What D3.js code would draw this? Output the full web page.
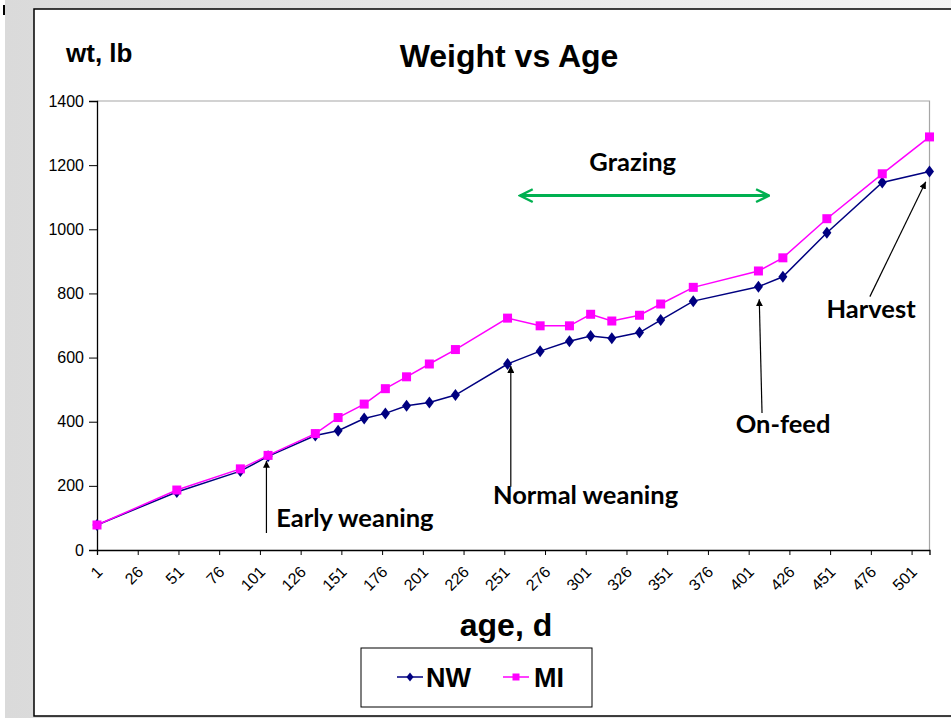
<!DOCTYPE html>
<html>
<head>
<meta charset="utf-8">
<script src="https://cdn.jsdelivr.net/npm/d3@7"></script>
<style>
  body { margin: 0; background: #fff; }
  svg { display: block; }
</style>
</head>
<body>
<div id="chart"></div>
<script>
// age in days for each weighing
const days = [1, 50, 89, 106, 135, 149, 165, 178, 191, 205, 221, 253, 273, 291, 304, 317, 334, 347, 367, 407, 422, 449, 483, 512];
// NW = normal weaning, MI = early weaned
const nw = [78, 181, 246, 292, 357, 372, 410, 426, 450, 460, 483, 580, 620, 651, 667, 660, 678, 717, 776, 821, 852, 989, 1146, 1180];
const mi = [78, 187, 253, 295, 363, 413, 455, 503, 540, 580, 625, 723, 699, 699, 735, 714, 732, 767, 819, 870, 911, 1033, 1173, 1288];
const xTicks = [1, 26, 51, 76, 101, 126, 151, 176, 201, 226, 251, 276, 301, 326, 351, 376, 401, 426, 451, 476, 501];
const yTicks = [0, 200, 400, 600, 800, 1000, 1200, 1400];
// arrows: tip and tail in data units, label start + baseline
const notes = [
  {text: "Early weaning", tip: [105, 278], tail: [105, 53], at: [111, 72]},
  {text: "Normal weaning", tip: [255, 574], tail: [255, 197], at: [244, 143]},
  {text: "On-feed", tip: [407.5, 782], tail: [409.2, 427], at: [393, 365]},
  {text: "Harvest", tip: [509.7, 1148], tail: [475.4, 790], at: [448.8, 723]}
];
const grazing = {from: 260.6, to: 413.4, wt: 1105, labelDay: 329.8, labelWt: 1183};

const w = 951, h = 718;
const svg = d3.select("#chart").append("svg")
  .attr("width", w).attr("height", h);

const defs = svg.append("defs");
const grad = defs.append("linearGradient").attr("id", "bg")
  .attr("x1", 0).attr("x2", 1).attr("y1", 0).attr("y2", 0);
grad.append("stop").attr("offset", 0).attr("stop-color", "#dadada");
grad.append("stop").attr("offset", 1).attr("stop-color", "#f4f4f4");
defs.append("marker").attr("id", "head")
  .attr("viewBox", "0 0 10 10").attr("refX", 10).attr("refY", 5)
  .attr("markerWidth", 7).attr("markerHeight", 7).attr("markerUnits", "userSpaceOnUse")
  .attr("orient", "auto")
  .append("path").attr("d", "M0,0 L10,5 L0,10 Z").attr("fill", "#000");
defs.append("marker").attr("id", "chev")
  .attr("viewBox", "0 0 10 10").attr("refX", 9).attr("refY", 5)
  .attr("markerWidth", 16).attr("markerHeight", 16).attr("markerUnits", "userSpaceOnUse")
  .attr("orient", "auto-start-reverse")
  .append("path").attr("d", "M1,1 L9,5 L1,9").attr("fill", "none")
  .attr("stroke", "#00B050").attr("stroke-width", 1.5);

// slide background
svg.append("rect").attr("x", 5).attr("y", 0).attr("width", w).attr("height", h).attr("fill", "url(#bg)");
svg.append("rect").attr("x", 0).attr("y", 0).attr("width", 5).attr("height", h).attr("fill", "#fff");
svg.append("rect").attr("x", 3).attr("y", 5).attr("width", 2).attr("height", 10).attr("fill", "#000");
svg.append("rect").attr("x", 34).attr("y", 9).attr("width", 940).attr("height", 707)
  .attr("fill", "#fff").attr("stroke", "#000").attr("stroke-width", 1.5);

const x = d3.scaleLinear().domain([1, 512]).range([97, 929.5]);
const y = d3.scaleLinear().domain([0, 1400]).range([550, 101]);

// plot frame (top and right in grey)
svg.append("path")
  .attr("d", `M${x(1)},${y(1400)} H${x(512)} V${y(0)}`)
  .attr("fill", "none").attr("stroke", "#a6a6a6").attr("stroke-width", 1.2);

const yAxis = svg.append("g").attr("transform", `translate(${x(1)},0)`)
  .call(d3.axisLeft(y).tickValues(yTicks).tickSize(8).tickPadding(5).tickFormat(d3.format("d")));
const xAxis = svg.append("g").attr("transform", `translate(0,${y(0)})`)
  .call(d3.axisBottom(x).tickValues(xTicks).tickSize(5).tickFormat(d3.format("d")));
[xAxis, yAxis].forEach(g => {
  g.select(".domain").attr("stroke", "#000").attr("stroke-width", 1.3);
  g.selectAll(".tick line").attr("stroke", "#000");
  g.selectAll("text").attr("fill", "#000")
    .style("font-family", "'Liberation Sans', Arial, sans-serif").style("font-size", "16px");
});
xAxis.selectAll("text")
  .attr("text-anchor", "end")
  .attr("transform", "translate(2,19) rotate(-45)")
  .attr("dy", "0.35em").attr("y", 0).attr("x", 0);

const line = d3.line().x(d => x(d[0])).y(d => y(d[1]));
const nwPts = days.map((d, i) => [d, nw[i]]);
const miPts = days.map((d, i) => [d, mi[i]]);
const diamond = "M0,-6 L4.5,0 L0,6 L-4.5,0 Z";

svg.append("path").datum(nwPts).attr("d", line)
  .attr("fill", "none").attr("stroke", "#000080").attr("stroke-width", 1.5);
svg.append("g").selectAll("path").data(nwPts).join("path")
  .attr("d", diamond).attr("transform", d => `translate(${x(d[0])},${y(d[1])})`)
  .attr("fill", "#000080");
svg.append("path").datum(miPts).attr("d", line)
  .attr("fill", "none").attr("stroke", "#FF00FF").attr("stroke-width", 1.5);
svg.append("g").selectAll("rect").data(miPts).join("rect")
  .attr("x", d => x(d[0]) - 4.5).attr("y", d => y(d[1]) - 4.5)
  .attr("width", 9).attr("height", 9).attr("fill", "#FF00FF");

// annotations
const noteFont = "Lato, 'Open Sans', sans-serif";
notes.forEach(n => {
  svg.append("line")
    .attr("x1", x(n.tail[0])).attr("y1", y(n.tail[1]))
    .attr("x2", x(n.tip[0])).attr("y2", y(n.tip[1]))
    .attr("stroke", "#000").attr("stroke-width", 1.2)
    .attr("marker-end", "url(#head)");
  svg.append("text").attr("x", x(n.at[0])).attr("y", y(n.at[1]))
    .style("font-family", noteFont).style("font-weight", "bold").style("font-size", "25.5px")
    .text(n.text);
});
svg.append("line")
  .attr("x1", x(grazing.from)).attr("x2", x(grazing.to))
  .attr("y1", y(grazing.wt)).attr("y2", y(grazing.wt))
  .attr("stroke", "#00B050").attr("stroke-width", 3)
  .attr("marker-start", "url(#chev)").attr("marker-end", "url(#chev)");
svg.append("text").attr("x", x(grazing.labelDay)).attr("y", y(grazing.labelWt))
  .attr("text-anchor", "middle")
  .style("font-family", noteFont).style("font-weight", "bold").style("font-size", "25.5px")
  .text("Grazing");

// titles
const arial = "'Liberation Sans', Arial, sans-serif";
svg.append("text").attr("x", 509).attr("y", 67).attr("text-anchor", "middle")
  .style("font-family", arial).style("font-weight", "bold").style("font-size", "32px")
  .text("Weight vs Age");
svg.append("text").attr("x", 66).attr("y", 62)
  .style("font-family", arial).style("font-weight", "bold").style("font-size", "26px")
  .text("wt, lb");
svg.append("text").attr("x", 506).attr("y", 636).attr("text-anchor", "middle")
  .style("font-family", arial).style("font-weight", "bold").style("font-size", "32px")
  .text("age, d");

// legend
const legend = svg.append("g").attr("id", "legend");
legend.append("rect").attr("x", 361).attr("y", 648).attr("width", 231).attr("height", 59)
  .attr("fill", "#fff").attr("stroke", "#000").attr("stroke-width", 1);
const items = [
  {name: "NW", color: "#000080", lx: 397, tx: 426},
  {name: "MI", color: "#FF00FF", lx: 503, tx: 534}
];
items.forEach(it => {
  legend.append("line").attr("x1", it.lx).attr("x2", it.lx + 26).attr("y1", 677).attr("y2", 677)
    .attr("stroke", it.color).attr("stroke-width", 1.5);
  if (it.name === "NW") {
    legend.append("path").attr("d", "M0,-4.5 L3.5,0 L0,4.5 L-3.5,0 Z")
      .attr("transform", `translate(${it.lx + 13},677)`).attr("fill", it.color);
  } else {
    legend.append("rect").attr("x", it.lx + 13 - 3.5).attr("y", 673.5)
      .attr("width", 7).attr("height", 7).attr("fill", it.color);
  }
  legend.append("text").attr("x", it.tx).attr("y", 687)
    .style("font-family", arial).style("font-weight", "bold").style("font-size", "27px")
    .text(it.name);
});
</script>
</body>
</html>
